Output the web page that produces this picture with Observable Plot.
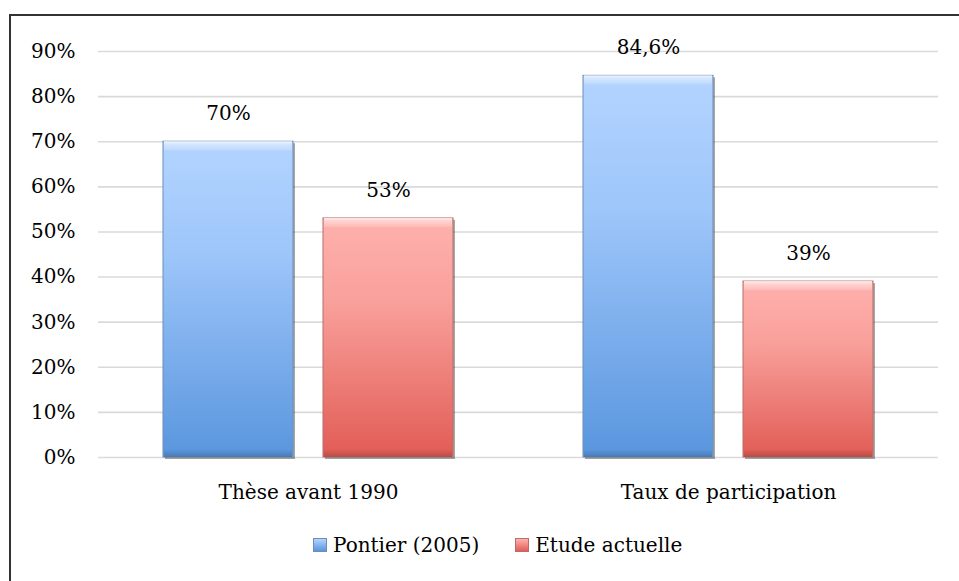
<!DOCTYPE html>
<html lang="fr">
<head>
<meta charset="utf-8">
<script src="https://cdn.jsdelivr.net/npm/d3@7"></script>
<script src="https://cdn.jsdelivr.net/npm/@observablehq/plot@0.6"></script>
<style>
  html, body { margin: 0; padding: 0; background: #fff; overflow: hidden; }
  #chart { position: absolute; left: 0; top: 0; width: 959px; height: 581px; }
  #frame { position: absolute; left: 9px; top: 14px; width: 1200px; height: 1200px;
           border-left: 2px solid #333; border-top: 2px solid #333; pointer-events: none; }
  #legend { position: absolute; left: 313px; top: 533px; display: flex; align-items: center;
            font-family: "DejaVu Serif", serif; font-size: 20px; color: #000; }
  #legend .item { display: flex; align-items: center; margin-right: 36px; }
  #legend .swatch { width: 14px; height: 14px; margin-right: 6px; box-sizing: border-box; }
  g[aria-label="bar shadow"] rect { filter: blur(1.5px); }
</style>
</head>
<body>
<div id="chart"></div>
<div id="frame"></div>
<script>
// Categories, series and values
const groups = ["Thèse avant 1990", "Taux de participation"];
const series = ["Pontier (2005)", "Etude actuelle"];
const pontier = [0.70, 0.846];
const etude = [0.53, 0.39];
const yTicks = [0, 0.1, 0.2, 0.3, 0.4, 0.5, 0.6, 0.7, 0.8, 0.9];

// Series styling: gradient ids and outline colours
const seriesFill = ["url(#pontier-fill)", "url(#etude-fill)"];
const seriesStroke = ["#6f8db6", "#b56e6b"];

const rows = groups.flatMap((g, i) => [
  {group: g, series: series[0], value: pontier[i]},
  {group: g, series: series[1], value: etude[i]}
]);

const fr = d3.formatLocale({decimal: ",", thousands: " ", grouping: [3], currency: ["", " €"], percent: "%"});
const pct = fr.format("~%");

const common = {fx: "group", x: "series"};

const chart = Plot.plot({
  width: 959,
  height: 520,
  marginLeft: 98,
  marginRight: 21,
  marginTop: 51,
  marginBottom: 63,
  style: {fontFamily: "'DejaVu Serif', serif", fontSize: "20px", color: "#000", background: "transparent"},
  fx: {domain: groups, padding: 0, axis: "bottom", label: null, tickSize: 0, tickPadding: 27},
  x: {domain: series, paddingInner: 0.1875, paddingOuter: 0.40625, axis: null},
  y: {domain: [0, 0.9], ticks: yTicks, tickFormat: d => Math.round(d * 100) + "%", tickSize: 0, tickPadding: 23, label: null},
  marks: [
    Plot.ruleY(yTicks, {stroke: "#dadada", strokeWidth: 1.6}),
    Plot.barY(rows, {...common, y: "value", fill: "rgba(0,0,0,0.35)", dx: 2, dy: 2, ariaLabel: "bar shadow"}),
    ...series.map((s, i) =>
      Plot.barY(rows.filter(d => d.series === s), {...common, y: "value", fill: seriesFill[i], stroke: seriesStroke[i], strokeWidth: 1})
    ),
    // bevelled highlight along the top edge
    Plot.barY(rows, {...common, y1: "value", y2: "value", insetBottom: -9, insetLeft: 1, insetRight: 1, fill: "url(#bevel-top)"}),
    // darker bevel along the bottom edge
    Plot.barY(rows, {...common, y1: () => 0, y2: () => 0, insetTop: -7, insetLeft: 1, insetRight: 1, fill: "url(#bevel-bottom)"}),
    Plot.text(rows, {...common, y: "value", text: d => pct(d.value), dy: -28, fill: "#000", fontSize: 20})
  ]
});

// Gradient definitions used by the bars
const ns = "http://www.w3.org/2000/svg";
const defs = document.createElementNS(ns, "defs");
function linear(id, stops, horizontal) {
  const g = document.createElementNS(ns, "linearGradient");
  g.setAttribute("id", id);
  g.setAttribute("x1", 0); g.setAttribute("y1", 0);
  g.setAttribute("x2", horizontal ? 1 : 0); g.setAttribute("y2", horizontal ? 0 : 1);
  for (const [o, c, a] of stops) {
    const s = document.createElementNS(ns, "stop");
    s.setAttribute("offset", o);
    s.setAttribute("stop-color", c);
    s.setAttribute("stop-opacity", a == null ? 1 : a);
    g.appendChild(s);
  }
  defs.appendChild(g);
}
linear("pontier-fill", [[0, "#b3d4ff"], [0.35, "#9ec6fa"], [1, "#5996de"]]);
linear("etude-fill", [[0, "#ffb1ad"], [0.35, "#f9a09b"], [1, "#e15c55"]]);
linear("bevel-top", [[0, "#ffffff", 0.85], [0.3, "#ffffff", 0.45], [1, "#ffffff", 0.15]]);
linear("bevel-bottom", [[0, "#000000", 0.02], [1, "#000000", 0.18]]);
chart.insertBefore(defs, chart.firstChild);

document.getElementById("chart").appendChild(chart);

// Legend below the plot
const legend = document.createElement("div");
legend.id = "legend";
series.forEach((s, i) => {
  const item = document.createElement("div");
  item.className = "item";
  const sw = document.createElement("div");
  sw.className = "swatch";
  sw.style.background = i === 0
    ? "linear-gradient(#b3d4ff, #5996de)"
    : "linear-gradient(#ffb1ad, #e15c55)";
  sw.style.border = "1px solid " + seriesStroke[i];
  const label = document.createElement("span");
  label.textContent = s;
  item.appendChild(sw);
  item.appendChild(label);
  legend.appendChild(item);
});
document.body.appendChild(legend);
</script>
</body>
</html>
